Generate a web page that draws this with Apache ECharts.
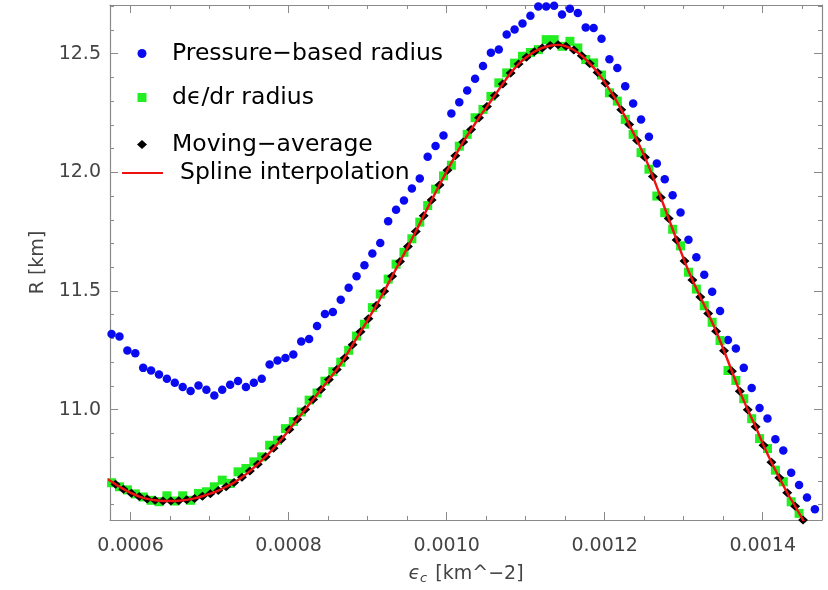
<!DOCTYPE html>
<html>
<head>
<meta charset="utf-8">
<script src="https://cdn.jsdelivr.net/npm/echarts@6/dist/echarts.min.js"></script>
<style>
  html, body { margin: 0; padding: 0; background: #ffffff; }
  #chart { width: 828px; height: 590px; }
</style>
</head>
<body>
<div id="chart"></div>
<script>
// ---- Data ----
// central energy density grid used by the pressure-based and dε/dr radii
const epsGrid = [
  0.000576, 0.000586, 0.000596, 0.000606, 0.000616, 0.000626, 0.000636, 0.000646, 0.000656, 0.000666,
  0.000676, 0.000686, 0.000696, 0.000706, 0.000716, 0.000726, 0.000736, 0.000746, 0.000756, 0.000766,
  0.000776, 0.000786, 0.000796, 0.000806, 0.000816, 0.000826, 0.000836, 0.000846, 0.000856, 0.000866,
  0.000876, 0.000886, 0.000896, 0.000906, 0.000916, 0.000926, 0.000936, 0.000946, 0.000956, 0.000966,
  0.000976, 0.000986, 0.000996, 0.001006, 0.001016, 0.001026, 0.001036, 0.001046, 0.001056, 0.001066,
  0.001076, 0.001086, 0.001096, 0.001106, 0.001116, 0.001126, 0.001136, 0.001146, 0.001156, 0.001166,
  0.001176, 0.001186, 0.001196, 0.001206, 0.001216, 0.001226, 0.001236, 0.001246, 0.001256, 0.001266,
  0.001276, 0.001286, 0.001296, 0.001306, 0.001316, 0.001326, 0.001336, 0.001346, 0.001356, 0.001366,
  0.001376, 0.001386, 0.001396, 0.001406, 0.001416, 0.001426, 0.001436, 0.001446, 0.001456, 0.001466,
  0.001476
];
const rPressure = [
  11.319, 11.308, 11.249, 11.238, 11.176, 11.165, 11.148, 11.130, 11.113, 11.095,
  11.079, 11.102, 11.084, 11.060, 11.084, 11.105, 11.121, 11.095, 11.113, 11.130,
  11.190, 11.207, 11.218, 11.232, 11.287, 11.298, 11.352, 11.403, 11.411, 11.463,
  11.514, 11.562, 11.608, 11.658, 11.702, 11.794, 11.842, 11.881, 11.932, 11.974,
  12.066, 12.111, 12.155, 12.248, 12.295, 12.345, 12.394, 12.448, 12.504, 12.517,
  12.581, 12.602, 12.627, 12.660, 12.699, 12.699, 12.702, 12.665, 12.689, 12.671,
  12.610, 12.608, 12.563, 12.476, 12.440, 12.363, 12.290, 12.223, 12.150, 12.037,
  11.971, 11.903, 11.831, 11.716, 11.642, 11.568, 11.497, 11.416, 11.293, 11.258,
  11.176, 11.091, 11.007, 10.963, 10.875, 10.828, 10.734, 10.682, 10.630, 10.580,
  10.531
];
const rDeps = [
  10.692, 10.675, 10.662, 10.645, 10.632, 10.618, 10.612, 10.637, 10.615, 10.637,
  10.618, 10.647, 10.654, 10.675, 10.703, 10.689, 10.738, 10.752, 10.780, 10.801,
  10.850, 10.871, 10.920, 10.950, 10.990, 11.040, 11.070, 11.120, 11.160, 11.200,
  11.250, 11.310, 11.360, 11.430, 11.487, 11.550, 11.613, 11.663, 11.720, 11.790,
  11.860, 11.929, 11.985, 12.030, 12.110, 12.160, 12.230, 12.265, 12.320, 12.377,
  12.419, 12.460, 12.489, 12.505, 12.517, 12.559, 12.559, 12.531, 12.552, 12.524,
  12.475, 12.461, 12.410, 12.335, 12.300, 12.223, 12.160, 12.083, 12.013, 11.900,
  11.830, 11.760, 11.690, 11.579, 11.508, 11.438, 11.368, 11.291, 11.165, 11.123,
  11.046, 10.962, 10.878, 10.836, 10.745, 10.696, 10.612, 10.563, 10.500, 10.440,
  10.380
];
// moving average sits between neighbouring grid points
const epsAvg = [
  0.000581, 0.000591, 0.000601, 0.000611, 0.000621, 0.000631, 0.000641, 0.000651, 0.000661, 0.000671,
  0.000681, 0.000691, 0.000701, 0.000711, 0.000721, 0.000731, 0.000741, 0.000751, 0.000761, 0.000771,
  0.000781, 0.000791, 0.000801, 0.000811, 0.000821, 0.000831, 0.000841, 0.000851, 0.000861, 0.000871,
  0.000881, 0.000891, 0.000901, 0.000911, 0.000921, 0.000931, 0.000941, 0.000951, 0.000961, 0.000971,
  0.000981, 0.000991, 0.001001, 0.001011, 0.001021, 0.001031, 0.001041, 0.001051, 0.001061, 0.001071,
  0.001081, 0.001091, 0.001101, 0.001111, 0.001121, 0.001131, 0.001141, 0.001151, 0.001161, 0.001171,
  0.001181, 0.001191, 0.001201, 0.001211, 0.001221, 0.001231, 0.001241, 0.001251, 0.001261, 0.001271,
  0.001281, 0.001291, 0.001301, 0.001311, 0.001321, 0.001331, 0.001341, 0.001351, 0.001361, 0.001371,
  0.001381, 0.001391, 0.001401, 0.001411, 0.001421, 0.001431, 0.001441, 0.001451, 0.001461, 0.001471
];
const rMovingAvg = [
  10.686, 10.665, 10.648, 10.634, 10.624, 10.618, 10.615, 10.615, 10.616, 10.620,
  10.626, 10.635, 10.646, 10.659, 10.675, 10.693, 10.715, 10.741, 10.770, 10.802,
  10.837, 10.875, 10.916, 10.959, 11.001, 11.043, 11.085, 11.127, 11.169, 11.218,
  11.273, 11.328, 11.383, 11.439, 11.499, 11.562, 11.624, 11.687, 11.751, 11.817,
  11.883, 11.947, 12.009, 12.070, 12.128, 12.180, 12.230, 12.277, 12.324, 12.372,
  12.418, 12.456, 12.485, 12.508, 12.524, 12.534, 12.537, 12.531, 12.515, 12.491,
  12.459, 12.421, 12.375, 12.323, 12.264, 12.201, 12.134, 12.063, 11.982, 11.894,
  11.805, 11.715, 11.626, 11.546, 11.475, 11.405, 11.330, 11.248, 11.162, 11.077,
  11.000, 10.928, 10.850, 10.778, 10.713, 10.650, 10.593, 10.535, 10.475, 10.415
];
// spline through the moving average, starting just left of the frame
const epsSpline = [0.000571].concat(epsAvg);
const rSpline = [10.707].concat(rMovingAvg);

const seriesNames = ['Pressure\u2212based radius', 'd\u03F5/dr radius', 'Moving\u2212average', 'Spline interpolation'];
const xRange = [0.000574, 0.001475];
const yRange = [10.535, 12.705];

function pairs(xs, ys) { return xs.map((x, i) => [x, ys[i]]); }

// ---- Styling ----
const FONT = 'DejaVu Sans';
const FRAME = '#8a8a8a';
const LABEL = '#444444';
const RED = '#ee1111';

function frameAxis(extra) {
  return Object.assign({
    type: 'value',
    axisLine: { show: true, onZero: false, lineStyle: { color: FRAME, width: 1.2 } },
    axisTick: { show: true, inside: true, length: 8, lineStyle: { color: FRAME, width: 1 } },
    splitLine: { show: false },
    minorSplitLine: { show: false }
  }, extra);
}

const chart = echarts.init(document.getElementById('chart'), null, { renderer: 'canvas' });

const legendText = { fontFamily: FONT, fontSize: 23.5, color: '#000000' };

chart.setOption({
  animation: false,
  backgroundColor: '#ffffff',
  grid: { left: 110, right: 6, top: 5, bottom: 68, containLabel: false },
  xAxis: [
    frameAxis({
      position: 'bottom', min: xRange[0], max: xRange[1],
      minorTick: { show: true, splitNumber: 4, length: 4, lineStyle: { color: FRAME } },
      axisLabel: {
        show: true, showMinLabel: false, showMaxLabel: false, margin: 17,
        fontFamily: FONT, fontSize: 19, color: LABEL,
        formatter: v => v.toFixed(4)
      },
      name: '{e|\u03F5}{c|c} [km^\u22122]',
      nameLocation: 'middle', nameGap: 44,
      nameTextStyle: {
        fontFamily: FONT, fontSize: 19, color: LABEL,
        rich: {
          e: { fontFamily: FONT, fontSize: 19, fontStyle: 'italic', color: LABEL },
          c: { fontFamily: FONT, fontSize: 13, fontStyle: 'italic', color: LABEL, verticalAlign: 'bottom', padding: [8, 2, 0, 0] }
        }
      }
    }),
    frameAxis({
      position: 'top', min: xRange[0], max: xRange[1],
      minorTick: { show: true, splitNumber: 4, length: 4, lineStyle: { color: FRAME } },
      axisLabel: { show: false }
    })
  ],
  yAxis: [
    frameAxis({
      position: 'left', min: yRange[0], max: yRange[1],
      minorTick: { show: true, splitNumber: 5, length: 4, lineStyle: { color: FRAME } },
      axisLabel: {
        show: true, showMinLabel: false, showMaxLabel: false, margin: 9,
        fontFamily: FONT, fontSize: 19, color: LABEL,
        formatter: v => v.toFixed(1)
      },
      name: 'R [km]', nameLocation: 'middle', nameGap: 62,
      nameTextStyle: { fontFamily: FONT, fontSize: 19, color: LABEL }
    }),
    frameAxis({
      position: 'right', min: yRange[0], max: yRange[1],
      minorTick: { show: true, splitNumber: 5, length: 4, lineStyle: { color: FRAME } },
      axisLabel: { show: false }
    })
  ],
  legend: [
    { data: [seriesNames[0]], left: 137.5, top: 41.5, padding: 0, selectedMode: false,
      icon: 'circle', itemWidth: 9, itemHeight: 9,
      textStyle: Object.assign({ padding: [0, 0, 0, 20.5] }, legendText) },
    { data: [seriesNames[1]], left: 137.5, top: 85.5, padding: 0, selectedMode: false,
      icon: 'rect', itemWidth: 9, itemHeight: 9,
      textStyle: Object.assign({ padding: [0, 0, 0, 20.5] }, legendText) },
    { data: [seriesNames[2]], left: 137, top: 132.5, padding: 0, selectedMode: false,
      icon: 'diamond', itemWidth: 10, itemHeight: 9,
      textStyle: Object.assign({ padding: [0, 0, 0, 20] }, legendText) },
    { data: [seriesNames[3]], left: 122, top: 161, padding: 0, selectedMode: false,
      icon: 'rect', itemWidth: 41, itemHeight: 2.2,
      itemStyle: { color: RED, borderWidth: 0 },
      textStyle: Object.assign({ padding: [0, 0, 0, 12] }, legendText) }
  ],
  series: [
    {
      name: seriesNames[0], type: 'scatter', xAxisIndex: 0, yAxisIndex: 0,
      symbol: 'circle', symbolSize: 8.5, z: 2,
      itemStyle: { color: '#0a0af0', opacity: 1 },
      data: pairs(epsGrid, rPressure)
    },
    {
      name: seriesNames[1], type: 'scatter', xAxisIndex: 0, yAxisIndex: 0,
      symbol: 'rect', symbolSize: 9, z: 3,
      itemStyle: { color: '#22ee22', opacity: 1 },
      data: pairs(epsGrid, rDeps)
    },
    {
      name: seriesNames[2], type: 'scatter', xAxisIndex: 0, yAxisIndex: 0,
      symbol: 'diamond', symbolSize: [10, 9], z: 4,
      itemStyle: { color: '#000000', opacity: 1 },
      data: pairs(epsAvg, rMovingAvg)
    },
    {
      name: seriesNames[3], type: 'line', xAxisIndex: 0, yAxisIndex: 0,
      showSymbol: false, symbol: 'none', smooth: 0.3, z: 5, clip: true,
      lineStyle: { color: RED, width: 2.4 },
      itemStyle: { color: RED },
      data: pairs(epsSpline, rSpline)
    }
  ]
});
</script>
</body>
</html>
